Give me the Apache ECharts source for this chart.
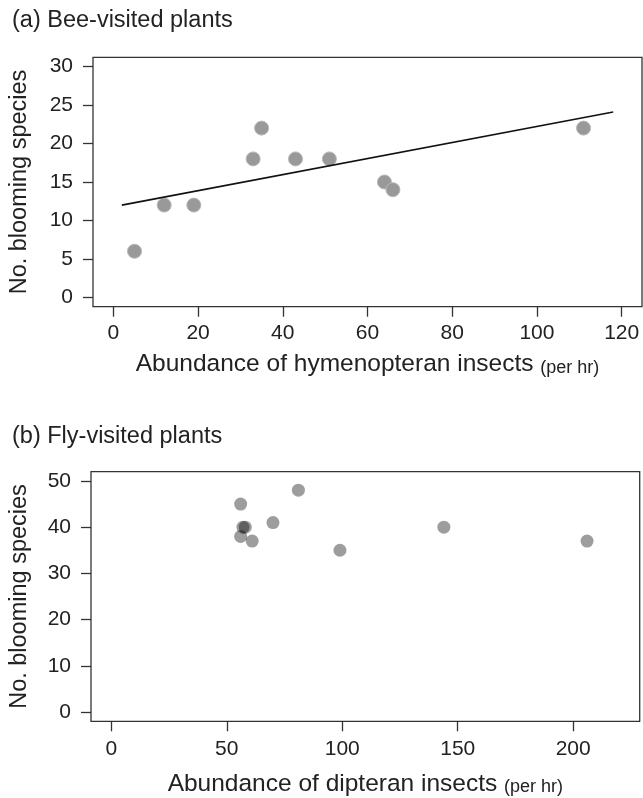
<!DOCTYPE html>
<html>
<head>
<meta charset="utf-8">
<script src="https://cdn.jsdelivr.net/npm/echarts@6/dist/echarts.min.js"></script>
<style>
html,body{margin:0;padding:0;background:#fff;}
#chart{width:643px;height:798px;}
</style>
</head>
<body>
<div id="chart"></div>
<script>
// Panel (a) Bee-visited plants
var beeX = [5, 12, 19, 33, 35, 43, 51, 64, 66, 111];
var beeY = [6, 12, 12, 18, 22, 18, 18, 15, 14, 22];
var beeFitX = [2, 118];
var beeFitY = [12, 24.1];
var beeXTicks = [0, 20, 40, 60, 80, 100, 120];
var beeYTicks = [0, 5, 10, 15, 20, 25, 30];

// Panel (b) Fly-visited plants
var flyX = [56, 81, 70, 57, 58, 56, 61, 99, 144, 206];
var flyY = [45, 48, 41, 40, 40, 38, 37, 35, 40, 37];
var flyXTicks = [0, 50, 100, 150, 200];
var flyYTicks = [0, 10, 20, 30, 40, 50];

var titleA = '(a) Bee-visited plants';
var titleB = '(b) Fly-visited plants';
var yName = 'No. blooming species';
var xNameA = 'Abundance of hymenopteran insects ';
var xNameB = 'Abundance of dipteran insects ';
var unitText = '(per hr)';

var FONT = '"Liberation Sans", Arial, Helvetica, sans-serif';
var TXT = '#222';

function zip(a, b) { return a.map(function (v, i) { return [v, b[i]]; }); }

function xAxisCfg(gi, min, max, ticks, name, labelMargin, nameGap) {
  return {
    gridIndex: gi, type: 'value', min: min, max: max,
    axisLine: { show: false, onZero: false },
    splitLine: { show: false },
    axisTick: { show: true, customValues: ticks, length: 10, inside: false,
      lineStyle: { color: '#333', width: 1.3 } },
    axisLabel: { show: true, customValues: ticks, margin: labelMargin,
      fontFamily: FONT, fontSize: 21, color: TXT },
    name: '{a|' + name + '}{b|' + unitText + '}',
    nameLocation: 'middle', nameGap: nameGap,
    nameTextStyle: {
      rich: {
        a: { fontFamily: FONT, fontSize: 24.5, color: TXT, verticalAlign: 'bottom' },
        b: { fontFamily: FONT, fontSize: 18, color: TXT, verticalAlign: 'bottom' }
      }
    }
  };
}
function yAxisCfg(gi, min, max, ticks, nameGap) {
  return {
    gridIndex: gi, type: 'value', min: min, max: max,
    axisLine: { show: false, onZero: false },
    splitLine: { show: false },
    axisTick: { show: true, customValues: ticks, length: 10, inside: false,
      lineStyle: { color: '#333', width: 1.3 } },
    axisLabel: { show: true, customValues: ticks, margin: 20,
      fontFamily: FONT, fontSize: 21, color: TXT },
    name: yName, nameLocation: 'middle', nameGap: nameGap,
    nameTextStyle: { fontFamily: FONT, fontSize: 23.5, color: TXT }
  };
}

var chart = echarts.init(document.getElementById('chart'), null, { renderer: 'canvas' });
chart.setOption({
  animation: false,
  backgroundColor: '#fff',
  grid: [
    { left: 90.7, top: 57.3, width: 551.3, height: 249.4, show: true,
      borderColor: '#333', borderWidth: 1.3, backgroundColor: 'transparent' },
    { left: 89, top: 471.7, width: 550.7, height: 249.6, show: true,
      borderColor: '#333', borderWidth: 1.3, backgroundColor: 'transparent' }
  ],
  xAxis: [
    xAxisCfg(0, -4.8, 124.8, beeXTicks, xNameA, 16, 45),
    xAxisCfg(1, -8.8, 228.8, flyXTicks, xNameB, 17, 50)
  ],
  yAxis: [
    yAxisCfg(0, -1.2, 31.2, beeYTicks, 61),
    yAxisCfg(1, -2, 52, flyYTicks, 59)
  ],
  graphic: [
    { type: 'text', left: 12, top: 9, style: { text: titleA, font: '23.5px ' + FONT, fill: TXT } },
    { type: 'text', left: 12, top: 425, style: { text: titleB, font: '23.5px ' + FONT, fill: TXT } }
  ],
  series: [
    { type: 'scatter', xAxisIndex: 0, yAxisIndex: 0, data: zip(beeX, beeY),
      symbolSize: 14, itemStyle: { color: '#999999', borderColor: '#b8b8b8', borderWidth: 1, opacity: 1 } },
    { type: 'line', xAxisIndex: 0, yAxisIndex: 0, data: zip(beeFitX, beeFitY),
      showSymbol: false, symbol: 'none', lineStyle: { color: '#111', width: 1.6 } },
    { type: 'scatter', xAxisIndex: 1, yAxisIndex: 1, data: zip(flyX, flyY),
      symbolSize: 13, itemStyle: { color: 'rgba(0,0,0,0.48)', borderWidth: 0 } }
  ]
});
</script>
</body>
</html>
